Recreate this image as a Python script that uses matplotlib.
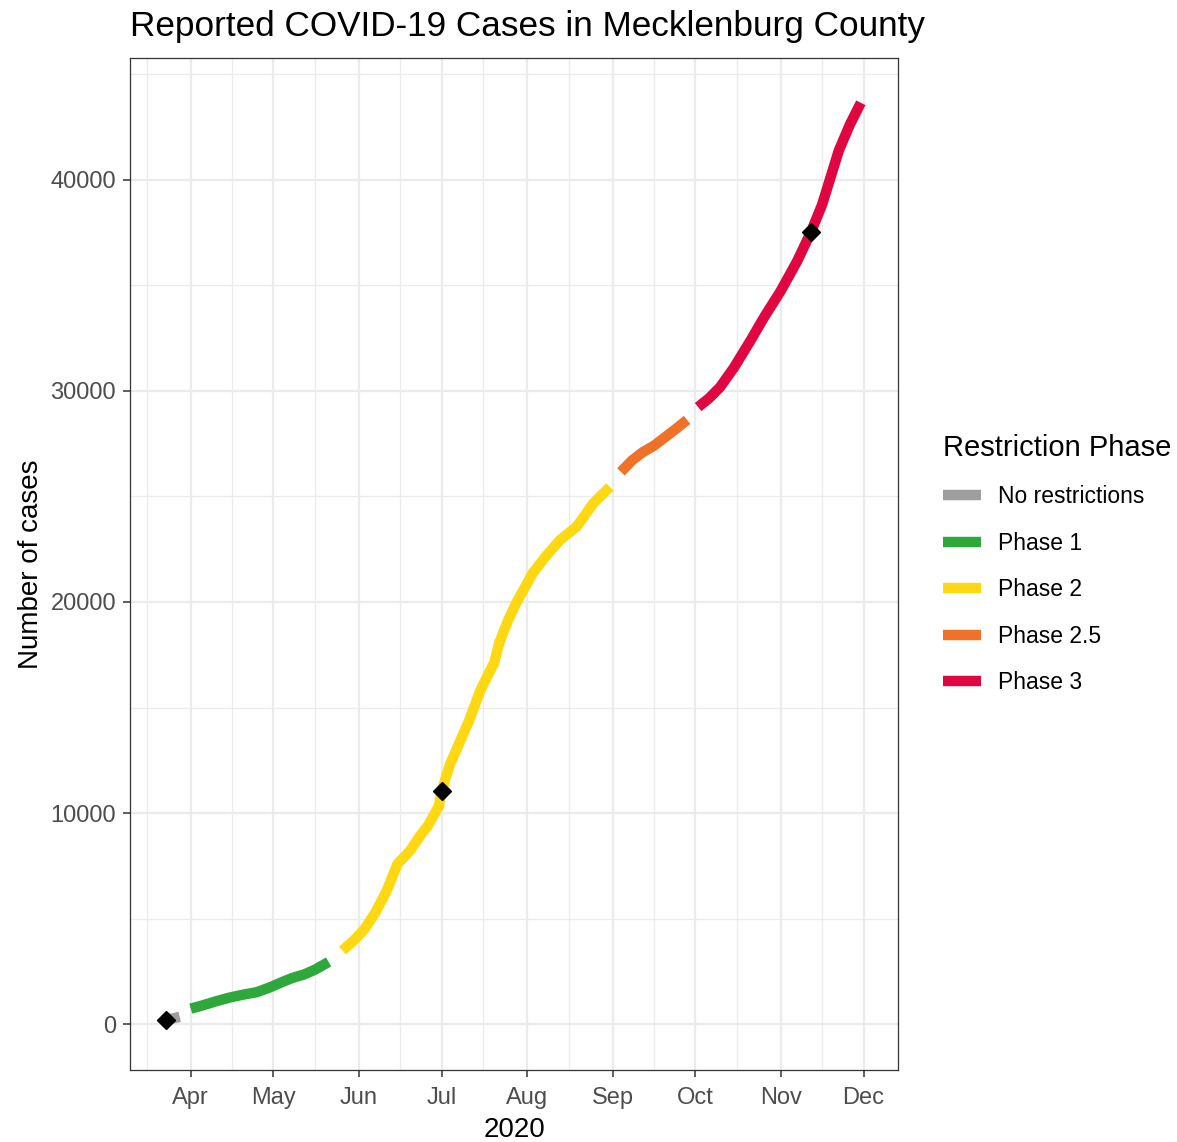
import matplotlib
matplotlib.use("Agg")
import matplotlib.pyplot as plt
import matplotlib.dates as mdates
import pandas as pd

plt.rcParams['font.family'] = ['Liberation Sans', 'DejaVu Sans']

# cumulative reported cases, one list per phase
none_dates = ['2020-03-23', '2020-03-25', '2020-03-28']
none_cases = [190, 260, 350]

p1_dates = ['2020-04-01', '2020-04-05', '2020-04-10', '2020-04-15', '2020-04-20',
            '2020-04-25', '2020-04-30', '2020-05-04', '2020-05-08', '2020-05-12',
            '2020-05-16', '2020-05-19', '2020-05-21']
p1_cases = [740, 880, 1080, 1260, 1400, 1520, 1760, 1990, 2200, 2350,
            2580, 2800, 2950]

p2_dates = ['2020-05-26', '2020-05-30', '2020-06-03', '2020-06-07', '2020-06-11',
            '2020-06-15', '2020-06-18', '2020-06-20', '2020-06-23', '2020-06-26',
            '2020-06-30', '2020-07-01', '2020-07-04', '2020-07-07', '2020-07-11',
            '2020-07-15', '2020-07-18', '2020-07-20', '2020-07-22', '2020-07-25',
            '2020-07-28', '2020-08-03', '2020-08-08', '2020-08-13', '2020-08-19',
            '2020-08-25', '2020-08-31']
p2_cases = [3490, 3950, 4500, 5300, 6300, 7600, 8000, 8300, 8900, 9400,
            10340, 11050, 12300, 13200, 14400, 15800, 16600, 17100, 18100, 19100,
            19940, 21360, 22200, 22940, 23570, 24670, 25450]

p25_dates = ['2020-09-04', '2020-09-08', '2020-09-12', '2020-09-16', '2020-09-20',
             '2020-09-24', '2020-09-28']
p25_cases = [26160, 26700, 27100, 27400, 27800, 28200, 28620]

p3_dates = ['2020-10-02', '2020-10-06', '2020-10-10', '2020-10-15', '2020-10-21',
            '2020-10-26', '2020-11-01', '2020-11-07', '2020-11-12', '2020-11-16',
            '2020-11-19', '2020-11-22', '2020-11-26', '2020-11-30']
p3_cases = [29230, 29650, 30180, 31100, 32380, 33500, 34740, 36160, 37540, 38830,
            40100, 41370, 42600, 43640]

mark_dates = ['2020-03-23', '2020-07-01', '2020-11-12']
mark_cases = [190, 11050, 37540]

phase_labels = ['No restrictions', 'Phase 1', 'Phase 2', 'Phase 2.5', 'Phase 3']
phase_colors = ['#9E9E9E', '#2EA83A', '#FFD814', '#F07228', '#E0063F']
phases = [(none_dates, none_cases), (p1_dates, p1_cases), (p2_dates, p2_cases),
          (p25_dates, p25_cases), (p3_dates, p3_cases)]

fig = plt.figure(figsize=(11.77, 11.42), dpi=100)
ax = fig.add_axes([0.1105, 0.063, 0.6525, 0.8862])

for (d, c), lab, col in zip(phases, phase_labels, phase_colors):
    ax.plot(pd.to_datetime(d), c, color=col, lw=7.5, label=lab,
            solid_capstyle='butt', solid_joinstyle='round', zorder=3)

ax.plot(pd.to_datetime(mark_dates), mark_cases, 'D', color='black',
        markersize=9.5, zorder=4, linestyle='none')

ax.set_xlim(pd.Timestamp('2020-03-10'), pd.Timestamp('2020-12-13 12:00'))
ax.set_ylim(-2170, 45760)

ax.xaxis.set_major_locator(mdates.MonthLocator(bymonth=range(4, 13)))
ax.xaxis.set_major_formatter(mdates.DateFormatter('%b'))
ax.xaxis.set_minor_locator(mdates.DayLocator(bymonthday=16))
ax.set_yticks([0, 10000, 20000, 30000, 40000])
ax.set_yticks([5000, 15000, 25000, 35000, 45000], minor=True)

ax.grid(which='major', color='#EBEBEB', lw=1.6)
ax.grid(which='minor', color='#EBEBEB', lw=0.9)
ax.set_axisbelow(True)

for s in ax.spines.values():
    s.set_color('#333333')
    s.set_linewidth(0.9)

ax.tick_params(which='major', length=5, width=1.1, color='#333333',
               labelsize=17, labelcolor='#4D4D4D')
ax.tick_params(axis='x', which='major', pad=7)
ax.tick_params(axis='y', which='major', pad=5)
ax.tick_params(which='minor', length=0)

ax.set_xlabel('2020', fontsize=20, color='black', labelpad=6)
ax.set_ylabel('Number of cases', fontsize=20, color='black', labelpad=5)
ax.set_title('Reported COVID-19 Cases in Mecklenburg County', fontsize=25.3,
             loc='left', pad=16)

leg = ax.legend(loc='upper left', bbox_to_anchor=(0.7835, 0.638),
                bbox_transform=fig.transFigure, frameon=False,
                title='Restriction Phase', fontsize=16.5, title_fontsize=21,
                handlelength=1.65, handletextpad=0.75, labelspacing=1.02)
leg._legend_box.align = 'left'
for line in leg.get_lines():
    line.set_linewidth(7.5)

fig.savefig('out.png', dpi=100)
